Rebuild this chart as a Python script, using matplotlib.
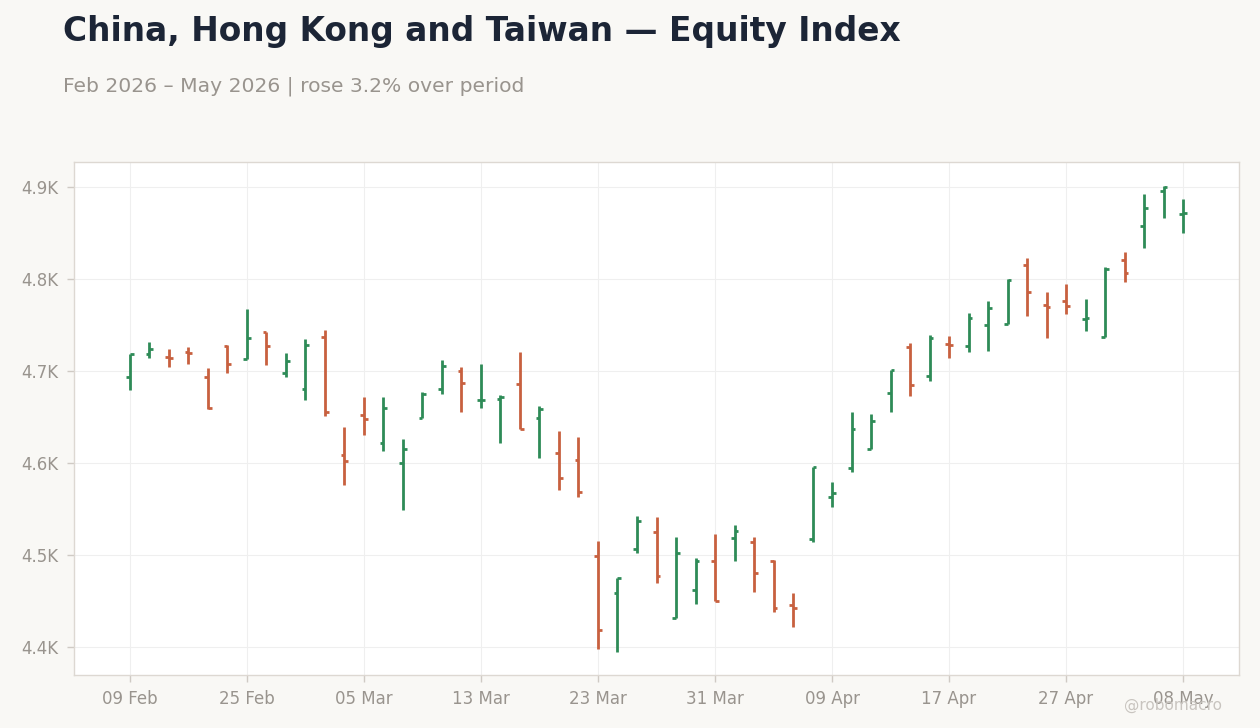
import matplotlib
matplotlib.use("Agg")
import matplotlib.pyplot as plt
from matplotlib.ticker import FuncFormatter

tick_labels = ["09 Feb", "25 Feb", "05 Mar", "13 Mar", "23 Mar", "31 Mar",
               "09 Apr", "17 Apr", "27 Apr", "08 May"]

opens = [4694, 4719, 4715.5, 4720.5, 4694, 4727.5, 4713.5, 4742, 4698, 4681,
         4737, 4609, 4652.5, 4622, 4600.5, 4649, 4681, 4700, 4668.5, 4670,
         4686, 4649, 4611, 4603.5, 4499, 4459, 4507, 4525.5, 4432, 4462,
         4493, 4518, 4514.5, 4493, 4446, 4517, 4563, 4595, 4615.5, 4676.5,
         4726.5, 4695, 4729, 4727.5, 4750, 4751, 4815.5, 4772, 4776.5, 4757,
         4737, 4821, 4858, 4896, 4871]
highs = [4719, 4731.5, 4724, 4726, 4703, 4728, 4767, 4742, 4720, 4735,
         4744.5, 4639, 4672, 4672, 4626, 4677, 4712, 4704, 4708, 4674,
         4721, 4662, 4635, 4628, 4515, 4475, 4542, 4541, 4519.5, 4497,
         4523, 4533, 4519.5, 4494.5, 4459, 4596, 4579, 4655.5, 4653, 4701,
         4731, 4739, 4738, 4763, 4776, 4800.5, 4823, 4786, 4794.5, 4778,
         4813, 4829, 4892, 4901.5, 4887]
lows = [4679, 4714.5, 4704, 4708, 4659, 4698, 4713, 4707, 4693, 4668,
        4651.5, 4576.5, 4631, 4613.5, 4549, 4649, 4675, 4655, 4660, 4622,
        4637, 4605, 4571, 4563.5, 4398, 4395, 4502.5, 4470, 4432, 4447,
        4450, 4493, 4460, 4438.5, 4421.5, 4514.5, 4552.5, 4590.5, 4615.5, 4655,
        4673, 4689.5, 4714.5, 4721, 4722, 4751, 4760, 4736, 4762, 4744,
        4737, 4797, 4834, 4866.5, 4850]
closes = [4719, 4724, 4714, 4720, 4660, 4708, 4736, 4727.5, 4711, 4728.5,
          4656, 4602, 4648, 4660, 4615.5, 4675, 4705, 4687, 4669, 4672,
          4637, 4659, 4584, 4568, 4419, 4475, 4537, 4477.5, 4502.5, 4493,
          4450, 4526.5, 4480, 4442, 4442, 4596, 4567, 4637, 4646, 4701,
          4685, 4736, 4728.5, 4758, 4768, 4799, 4786, 4770, 4771, 4758,
          4810.5, 4807, 4877.5, 4900.5, 4872]

UP = "#2e8b57"
DOWN = "#c8603f"
BG = "#f9f8f5"

fig = plt.figure(figsize=(12.6, 7.28), dpi=100, facecolor=BG)
ax = fig.add_axes([74 / 1260, 1 - 675 / 728, (1239 - 74) / 1260, (675 - 162) / 728])
ax.set_facecolor("white")

w = 0.2
for i, (o, h, l, c) in enumerate(zip(opens, highs, lows, closes)):
    col = UP if c >= o else DOWN
    ax.plot([i, i], [l, h], color=col, lw=2.0, solid_capstyle="butt", zorder=3)
    ax.plot([i - w, i], [o, o], color=col, lw=2.0, solid_capstyle="butt", zorder=3)
    ax.plot([i, i + w], [c, c], color=col, lw=2.0, solid_capstyle="butt", zorder=3)

ax.set_xlim(-2.87, 56.87)
ax.set_ylim(4369.6, 4927.2)
ax.set_xticks(list(range(0, 55, 6)))
ax.set_xticklabels(tick_labels)
ax.set_yticks([4400, 4500, 4600, 4700, 4800, 4900])
ax.yaxis.set_major_formatter(FuncFormatter(lambda v, p: f"{v/1000:.1f}K"))

ax.grid(True, color="#efefef", lw=0.8, zorder=0)
ax.set_axisbelow(True)
for s in ax.spines.values():
    s.set_color("#ddd8d2")
    s.set_linewidth(1.0)
ax.tick_params(axis="both", colors="#cfcac4", labelcolor="#99948e", labelsize=12,
               length=5, width=1, pad=6)

fig.text(63 / 1260, 1 - 31 / 728, "China, Hong Kong and Taiwan — Equity Index",
         fontsize=23.7, fontweight="bold", color="#1c2536", va="center", ha="left")
fig.text(63 / 1260, 1 - 86 / 728, "Feb 2026 – May 2026 | rose 3.2% over period",
         fontsize=14.6, color="#99948e", va="center", ha="left")
fig.text(1222 / 1260, 1 - 705 / 728, "@robomacro", fontsize=11, color="#c8c4bf",
         va="center", ha="right")

fig.savefig("out.png", dpi=100, facecolor=BG)
